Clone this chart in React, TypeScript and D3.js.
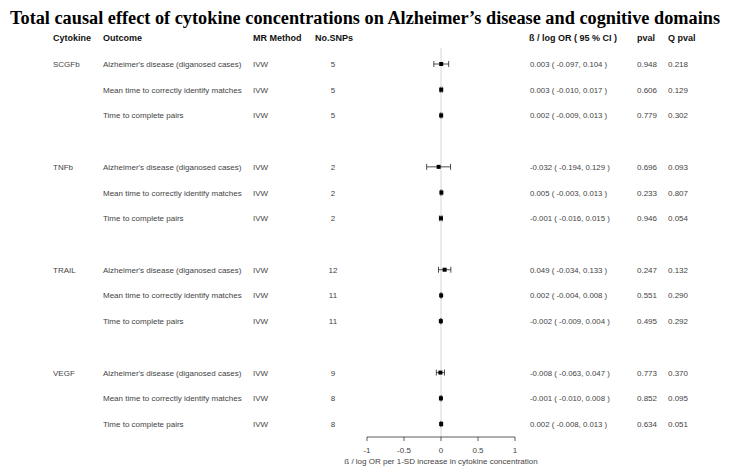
import * as d3 from 'd3';
import React from 'react';

// table columns
const cytokines = ['SCGFb', 'TNFb', 'TRAIL', 'VEGF'];
const outcomes = [
  "Alzheimer's disease (diganosed cases)",
  'Mean time to correctly identify matches',
  'Time to complete pairs',
];
const methods = ['IVW', 'IVW', 'IVW', 'IVW', 'IVW', 'IVW', 'IVW', 'IVW', 'IVW', 'IVW', 'IVW', 'IVW'];
const nSnps = [5, 5, 5, 2, 2, 2, 12, 11, 11, 9, 8, 8];
const beta = [0.003, 0.003, 0.002, -0.032, 0.005, -0.001, 0.049, 0.002, -0.002, -0.008, -0.001, 0.002];
const lower = [-0.097, -0.010, -0.009, -0.194, -0.003, -0.016, -0.034, -0.004, -0.009, -0.063, -0.010, -0.008];
const upper = [0.104, 0.017, 0.013, 0.129, 0.013, 0.015, 0.133, 0.008, 0.004, 0.047, 0.008, 0.013];
const pvals = ['0.948', '0.606', '0.779', '0.696', '0.233', '0.946', '0.247', '0.551', '0.495', '0.773', '0.852', '0.634'];
const qpvals = ['0.218', '0.129', '0.302', '0.093', '0.807', '0.054', '0.132', '0.290', '0.292', '0.370', '0.095', '0.051'];
const xTicks = [-1, -0.5, 0, 0.5, 1];

const width = 752;
const height = 467;
const font = "'Liberation Sans', Arial, sans-serif";
const textColor = '#444';

const fmt = (v: number) => v.toFixed(3);

export default function App() {
  const x = d3.scaleLinear().domain([-1, 1]).range([367, 515]);
  // 4 slots per cytokine group, the last slot of each group is the blank gap
  const y = d3.scaleLinear().domain([0, 14]).range([64, 424]);

  const rows = beta.map((b, i) => {
    const g = Math.floor(i / 3);
    const k = i % 3;
    return { i, g, k, slot: g * 4 + k, b, lo: lower[i], hi: upper[i] };
  });

  const axisY = 437;
  const col = { cyto: 53, outcome: 103, method: 253, snp: 333, beta: 530, p: 637, q: 668 };

  return (
    <div style={{ position: 'absolute', left: 0, top: 0 }}>
      <svg width={width} height={height} style={{ display: 'block', background: '#fff' }}>
        <text
          x={10}
          y={24}
          textLength={710}
          lengthAdjust="spacingAndGlyphs"
          fontFamily="'Liberation Serif', 'Times New Roman', serif"
          fontWeight="bold"
          fontSize={18.5}
          fill="#000"
        >
          Total causal effect of cytokine concentrations on Alzheimer’s disease and cognitive domains
        </text>

        {/* headers */}
        <g fontFamily={font} fontWeight="bold" fontSize={9} fill="#111">
          <text x={col.cyto} y={41}>Cytokine</text>
          <text x={col.outcome} y={41}>Outcome</text>
          <text x={col.method} y={41}>MR Method</text>
          <text x={315} y={41}>No.SNPs</text>
          <text x={529} y={41}>ß / log OR ( 95 % CI )</text>
          <text x={col.p} y={41}>pval</text>
          <text x={col.q} y={41}>Q pval</text>
        </g>

        {/* zero reference line */}
        <line x1={x(0)} x2={x(0)} y1={48} y2={axisY} stroke="#d6d6d6" strokeWidth={1} />

        <g fontFamily={font} fontSize={8} fill={textColor}>
          {cytokines.map((c, g) => (
            <text key={c} x={col.cyto} y={y(g * 4) + 3}>{c}</text>
          ))}
          {rows.map((r) => (
            <g key={r.i}>
              <text x={col.outcome} y={y(r.slot) + 3}>{outcomes[r.k]}</text>
              <text x={col.method} y={y(r.slot) + 3}>{methods[r.i]}</text>
              <text x={col.snp} y={y(r.slot) + 3} textAnchor="middle">{nSnps[r.i]}</text>
              <text x={col.beta} y={y(r.slot) + 3} fontSize={7.8}>
                {`${fmt(r.b)} ( ${fmt(r.lo)}, ${fmt(r.hi)} )`}
              </text>
              <text x={col.p} y={y(r.slot) + 3}>{pvals[r.i]}</text>
              <text x={col.q} y={y(r.slot) + 3}>{qpvals[r.i]}</text>
            </g>
          ))}
        </g>

        {/* forest marks */}
        <g>
          {rows.map((r) => {
            const cy = y(r.slot);
            return (
              <g key={r.i} stroke="#222" strokeWidth={0.8}>
                <line x1={x(r.lo)} x2={x(r.hi)} y1={cy} y2={cy} />
                <line x1={x(r.lo)} x2={x(r.lo)} y1={cy - 3} y2={cy + 3} />
                <line x1={x(r.hi)} x2={x(r.hi)} y1={cy - 3} y2={cy + 3} />
                <rect x={x(r.b) - 2} y={cy - 2} width={4} height={4} fill="#000" stroke="none" />
              </g>
            );
          })}
        </g>

        {/* x axis */}
        <g fontFamily={font} fontSize={8} fill={textColor}>
          <line x1={x(-1)} x2={x(1)} y1={axisY} y2={axisY} stroke="#333" strokeWidth={0.8} />
          {xTicks.map((t) => (
            <g key={t}>
              <line x1={x(t)} x2={x(t)} y1={axisY} y2={axisY + 4} stroke="#333" strokeWidth={0.8} />
              <text x={x(t)} y={axisY + 16} textAnchor="middle">{t}</text>
            </g>
          ))}
          <text x={x(0)} y={axisY + 27} textAnchor="middle">
            ß / log OR per 1-SD increase in cytokine concentration
          </text>
        </g>
      </svg>
    </div>
  );
}
